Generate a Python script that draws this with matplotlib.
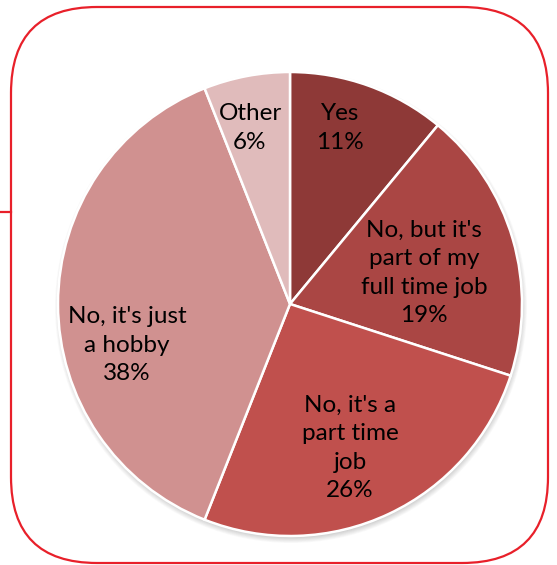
import numpy as np
import matplotlib.pyplot as plt
from matplotlib.patches import FancyBboxPatch, Circle

plt.rcParams['font.family'] = ['Lato', 'DejaVu Sans']

labels = ["Yes", "No, but it's\npart of my\nfull time job", "No, it's a\npart time\njob",
          "No, it's just\na hobby", "Other"]
values = [11, 19, 26, 38, 6]
colors = ['#8E3937', '#AA4644', '#C0504D', '#D09190', '#E0BBBB']

# label centres in pixel coords (x from left, y from top)
label_xy = [(340, 128), (424, 273), (350, 448), (127, 345), (250, 128)]

W, H = 557, 565
fig = plt.figure(figsize=(W / 100, H / 100), dpi=100)
ax = fig.add_axes([0, 0, 1, 1])

cx, cy, R = 290, H - 304, 232

# soft shadow under the pie
for i in range(8):
    ax.add_patch(Circle((cx + 1, cy - 3), R + 4 - i * 0.8, color='#000000',
                        alpha=0.025, lw=0, zorder=0))

ax.pie(values, colors=colors, startangle=90, counterclock=False,
       center=(cx, cy), radius=R,
       wedgeprops=dict(edgecolor='white', linewidth=1.8))

for lab, v, (x, y) in zip(labels, values, label_xy):
    ax.text(x, H - y, f"{lab}\n{v}%", ha='center', va='center',
            fontsize=17.5, linespacing=1.42, color='black')

# rounded frame
ax.add_patch(FancyBboxPatch((11, 2), 537, H - 9,
                            boxstyle="round,pad=0,rounding_size=86",
                            fill=False, edgecolor='#E8202A', linewidth=1.6,
                            zorder=5))
ax.plot([0, 11], [H - 212, H - 212], color='#E8202A', lw=1.6, zorder=5)

ax.set_xlim(0, W)
ax.set_ylim(0, H)
ax.set_aspect('equal')
ax.axis('off')

fig.savefig('out.png', dpi=100)
